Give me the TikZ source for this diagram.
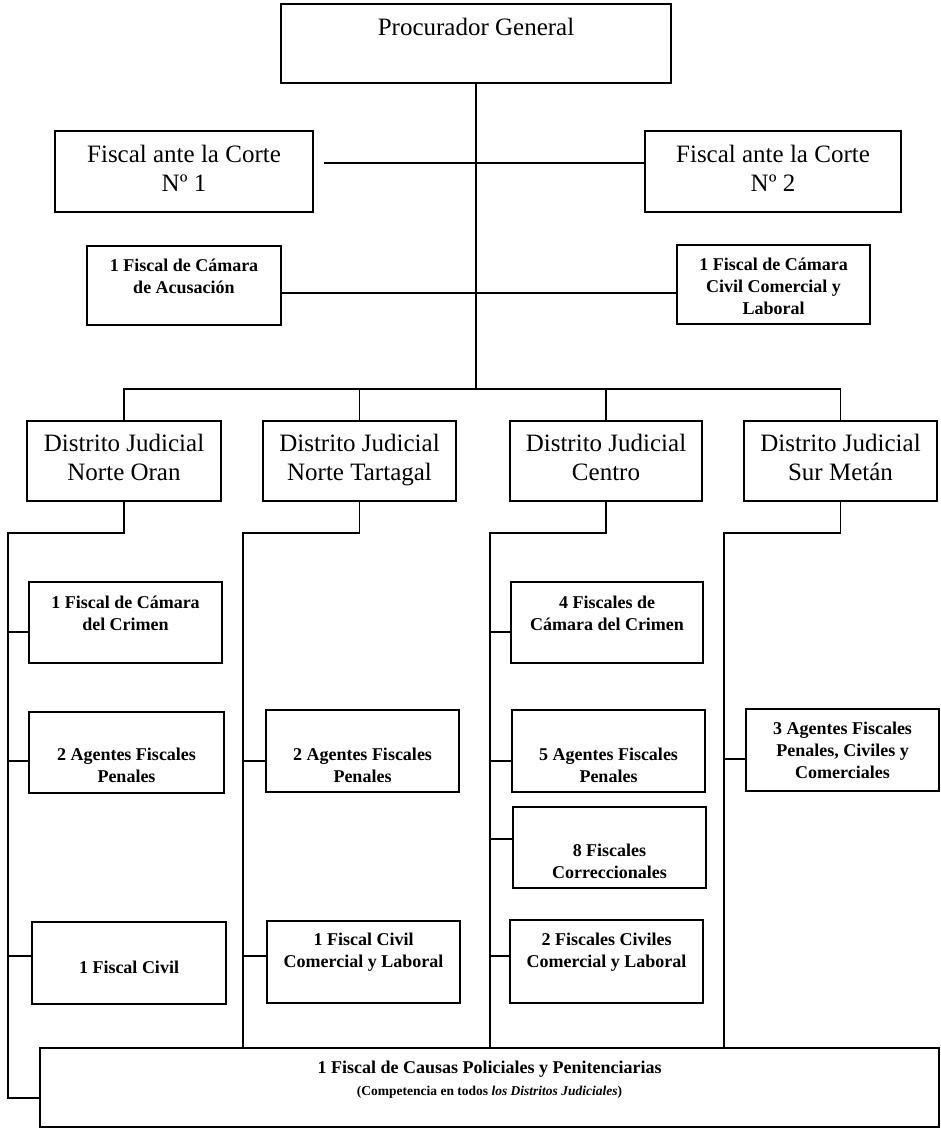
\documentclass[tikz,border=0pt]{standalone}
\usepackage{fontspec}
\setmainfont{Liberation Serif}
\begin{document}
\begin{tikzpicture}[x=1pt,y=-1pt,
  box/.style={draw, line width=1.6pt, inner sep=0pt, outer sep=0pt},
  big/.style={font=\fontsize{25}{29}\selectfont, align=center, inner sep=0pt},
  sm/.style={font=\bfseries\fontsize{18}{22}\selectfont, align=center, inner sep=0pt},
  conn/.style={line width=1.2pt}]
\useasboundingbox (0,0) rectangle (941,1128);
\fill[white] (0,0) rectangle (941,1128);

% top level
\node[box, minimum width=390pt, minimum height=79pt,
  label={[big, yshift=16.5pt]center:Procurador General}] (pg) at (476,43.5) {};
\node[box, minimum width=258pt, minimum height=81pt,
  label={[big, yshift=3pt]center:Fiscal ante la Corte\\Nº 1}] (fc1) at (184,171.5) {};
\node[box, minimum width=256pt, minimum height=81pt,
  label={[big, yshift=3pt]center:Fiscal ante la Corte\\Nº 2}] (fc2) at (773,171.5) {};
\node[box, minimum width=194pt, minimum height=79pt,
  label={[sm, yshift=9.5pt]center:1 Fiscal de Cámara\\de Acusación}] (fa) at (184,285.5) {};
\node[box, minimum width=193pt, minimum height=79pt,
  label={[sm, yshift=-1.5pt]center:1 Fiscal de Cámara\\Civil Comercial y\\Laboral}] (fcc) at (773.5,284.5) {};

% districts
\node[box, minimum width=194pt, minimum height=80pt,
  label={[big, yshift=3.5pt]center:Distrito Judicial\\Norte Oran}] (d1) at (124,461) {};
\node[box, minimum width=193pt, minimum height=80pt,
  label={[big, yshift=0.5pt]center:Distrito Judicial\\Norte Tartagal}] (d2) at (359.5,461) {};
\node[box, minimum width=192pt, minimum height=80pt,
  label={[big, yshift=3.5pt]center:Distrito Judicial\\Centro}] (d3) at (606,461) {};
\node[box, minimum width=193pt, minimum height=80pt,
  label={[big, yshift=3.5pt]center:Distrito Judicial\\Sur Metán}] (d4) at (840.5,461) {};

% Norte Oran
\node[box, minimum width=193pt, minimum height=81pt,
  label={[sm, yshift=9pt]center:1 Fiscal de Cámara\\del Crimen}] (o1) at (125.5,622.5) {};
\node[box, minimum width=195pt, minimum height=81pt,
  label={[sm, yshift=-13pt]center:2 Agentes Fiscales\\Penales}] (o2) at (126.5,752.5) {};
\node[box, minimum width=194pt, minimum height=82pt,
  label={[sm, yshift=-4pt]center:1 Fiscal Civil}] (o3) at (129,963) {};

% Norte Tartagal
\node[box, minimum width=193pt, minimum height=82pt,
  label={[sm, yshift=-14.5pt]center:2 Agentes Fiscales\\Penales}] (t2) at (362.5,751) {};
\node[box, minimum width=193pt, minimum height=82pt,
  label={[sm, yshift=9.5pt]center:1 Fiscal Civil\\Comercial y Laboral}] (t3) at (363.5,962) {};

% Centro
\node[box, minimum width=192pt, minimum height=81pt,
  label={[sm, yshift=9pt]center:4 Fiscales de\\Cámara del Crimen}] (c1) at (607,622.5) {};
\node[box, minimum width=193pt, minimum height=82pt,
  label={[sm, yshift=-14.5pt]center:5 Agentes Fiscales\\Penales}] (c2) at (608.5,751) {};
\node[box, minimum width=193pt, minimum height=81pt,
  label={[sm, yshift=-14pt]center:8 Fiscales\\Correccionales}] (c3) at (609.5,847.5) {};
\node[box, minimum width=193pt, minimum height=83pt,
  label={[sm, yshift=9pt]center:2 Fiscales Civiles\\Comercial y Laboral}] (c4) at (606.5,961.5) {};

% Sur Metan
\node[box, minimum width=193pt, minimum height=82pt,
  label={[sm, yshift=0pt]center:3 Agentes Fiscales\\Penales, Civiles y\\Comerciales}] (s2) at (842.5,750) {};

% bottom
\node[box, minimum width=899pt, minimum height=79pt,
  label={[sm, yshift=8pt]center:1 Fiscal de Causas Policiales y Penitenciarias\\
  {\fontsize{13.5}{16}\selectfont (Competencia en todos \textit{los Distritos Judiciales})}}] (fp) at (489.5,1087.5) {};

% connectors top
\draw[conn] (pg.south) -- (pg.south |- 0,389);
\draw[conn] ([xshift=11pt]fc1.east |- 0,163) -- (fc2.west |- 0,163);
\draw[conn] (fa.east |- 0,293) -- (fcc.west |- 0,293);
\draw[conn] (d1.north) -- (d1.north |- 0,389) -- (d4.north |- 0,389) -- (d4.north);
\draw[conn] (d2.north) -- (d2.north |- 0,389);
\draw[conn] (d3.north) -- (d3.north |- 0,389);

% district spines
\coordinate (sp1) at (8,533);
\coordinate (sp2) at (243,533);
\coordinate (sp3) at (490,533);
\coordinate (sp4) at (724,533);
\draw[conn] (d1.south) -- (d1.south |- sp1) -- (sp1) -- (8,1098) -- (fp.west |- 0,1098);
\draw[conn] (d2.south) -- (d2.south |- sp2) -- (sp2) -- (sp2 |- fp.north);
\draw[conn] (d3.south) -- (d3.south |- sp3) -- (sp3) -- (sp3 |- fp.north);
\draw[conn] (d4.south) -- (d4.south |- sp4) -- (sp4) -- (sp4 |- fp.north);

% stubs
\draw[conn] (8,632) -- (o1.west |- 0,632);
\draw[conn] (8,761) -- (o2.west |- 0,761);
\draw[conn] (8,956) -- (o3.west |- 0,956);
\draw[conn] (243,761) -- (t2.west |- 0,761);
\draw[conn] (243,956) -- (t3.west |- 0,956);
\draw[conn] (490,632) -- (c1.west |- 0,632);
\draw[conn] (490,761) -- (c2.west |- 0,761);
\draw[conn] (490,839) -- (c3.west |- 0,839);
\draw[conn] (490,956) -- (c4.west |- 0,956);
\draw[conn] (724,759) -- (s2.west |- 0,759);
\end{tikzpicture}
\end{document}
